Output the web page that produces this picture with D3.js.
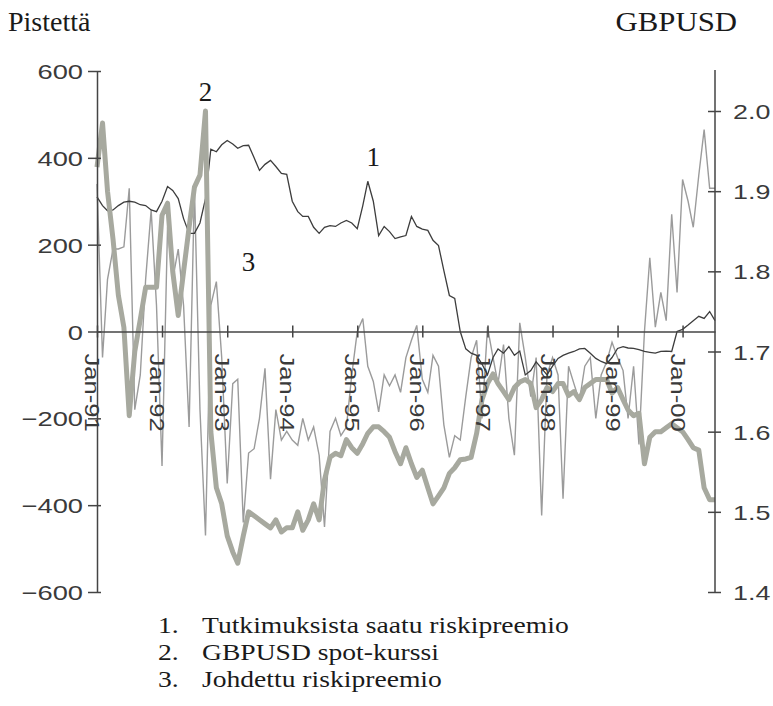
<!DOCTYPE html>
<html>
  <head>
    <meta charset="utf-8" />
    <title>Riskipreemio ja GBPUSD</title>
    <style>
      body {
        margin: 0;
        background: #fff;
      }

      svg {
        display: block;
      }

      .tick-label {
        font-family: "Liberation Sans", Arial, sans-serif;
        font-size: 21px;
        fill: #3a3a3a;
      }

      .serif {
        font-family: "Liberation Serif", "Times New Roman", serif;
        fill: #1a1a1a;
      }
    </style>
  </head>

  <body>
    <svg id="chart"></svg>

    <script src="https://cdn.jsdelivr.net/npm/d3@7"></script>
    <script>
      const width = 773;
      const height = 706;

      // monthly observations, Jan-91 .. Jul-00
      const startMonth = new Date(1991, 0, 1);

      // 1. Tutkimuksista saatu riskipreemio (pisteet, vasen akseli)
      const series1 = [
        310, 290, 278, 280, 290, 298, 300, 298, 292, 290,
        280, 276, 300, 334, 325, 306, 260, 226, 226, 250,
        306, 420, 414, 430, 440, 432, 422, 428, 429, 400,
        371, 385, 394, 380, 364, 362, 300, 276, 265, 265,
        240, 226, 240, 244, 242, 250, 256, 250, 237, 290,
        346, 300, 221, 242, 230, 214, 218, 221, 265, 242,
        236, 233, 210, 198, 140, 83, 76, 0, -40, -50,
        -55, -75, -100, -60, -40, -50, -35, -55, -45, -100,
        -90, -70, -85, -100, -80, -62, -55, -50, -46, -40,
        -39, -50, -62, -69, -74, -60, -39, -35, -38, -39,
        -42, -46, -48, -50, -46, -45, -46, 0, 5, 15,
        25, 35, 30, 46, 25
      ];

      // 2. GBPUSD spot-kurssi (oikea akseli)
      const series2 = [
        1.93, 1.985, 1.9, 1.84, 1.77, 1.73, 1.62, 1.7, 1.74, 1.78,
        1.78, 1.78, 1.87, 1.885, 1.8, 1.745, 1.8, 1.855, 1.905, 1.92,
        2.0, 1.6, 1.53, 1.51, 1.47, 1.45, 1.436, 1.47, 1.5, 1.495,
        1.49, 1.485, 1.48, 1.49, 1.475, 1.48, 1.48, 1.5, 1.477, 1.49,
        1.51, 1.49, 1.54, 1.568, 1.573, 1.57, 1.59, 1.58, 1.573, 1.585,
        1.598, 1.606, 1.606, 1.6, 1.593, 1.575, 1.56, 1.58, 1.56, 1.543,
        1.552, 1.53, 1.51, 1.52, 1.53, 1.548, 1.555, 1.565, 1.566, 1.568,
        1.598, 1.64, 1.66, 1.672, 1.66, 1.65, 1.64, 1.655, 1.662, 1.665,
        1.66, 1.63, 1.64, 1.655, 1.65, 1.66, 1.66, 1.645, 1.65, 1.64,
        1.655, 1.66, 1.665, 1.665, 1.665, 1.648, 1.655, 1.64, 1.627, 1.62,
        1.623, 1.56, 1.593, 1.6, 1.6, 1.605, 1.61, 1.605, 1.6, 1.59,
        1.58, 1.577, 1.53, 1.515, 1.515
      ];

      // 3. Johdettu riskipreemio (pisteet, vasen akseli)
      const series3 = [
        340, -60, 120, 190, 190, 195, 330, -180, -100, 120,
        280, 60, -310, 240, 120, 190, 60, -220, 330, -180,
        -470, 60, 115, -60, -350, -120, -110, -440, -280, -270,
        -200, -85, -340, -180, -250, -230, -250, -262, -200, -250,
        -220, -285, -450, -230, -200, -240, -220, -100, 0, 30,
        -80, -115, -185, -100, -125, -100, -140, -60, -20, 14,
        -110, -140, -55, -80, -215, -290, -240, -250, -150, -60,
        -20, -200, 10, -60, -120, -30, -200, -285, 20, -60,
        -150, -60, -424, -100, -60, -100, -385, -80, -120, -160,
        -80, -60, -200, -100, -70, -25, -60, -90, -200, -80,
        -260, 0, 170, 10, 90, 25, 270, 90, 350, 300,
        240, 360, 465, 330, 330
      ];

      const leftTicks = [-600, -400, -200, 0, 200, 400, 600];
      const rightTicks = [1.4, 1.5, 1.6, 1.7, 1.8, 1.9, 2.0];
      const yearTicks = d3.range(1991, 2001).map((y) => new Date(y, 0, 1));
      const legendItems = [
        "Tutkimuksista saatu riskipreemio",
        "GBPUSD spot-kurssi",
        "Johdettu riskipreemio"
      ];
      // series number, month index, value on left axis
      const callouts = [
        ["2", 20, 530],
        ["1", 51, 382],
        ["3", 28, 140]
      ];

      const months = series1.map((d, i) => d3.timeMonth.offset(startMonth, i));

      const svg = d3
        .select("#chart")
        .attr("width", width)
        .attr("height", height);

      const x = d3
        .scaleTime()
        .domain([months[0], months[months.length - 1]])
        .range([97, 715]);
      const yLeft = d3.scaleLinear().domain([-600, 600]).range([592, 71]);
      const yRight = d3.scaleLinear().domain([1.4, 2.0]).range([592, 111]);

      const lineLeft = d3
        .line()
        .x((d, i) => x(months[i]))
        .y((d) => yLeft(d));
      const lineRight = d3
        .line()
        .x((d, i) => x(months[i]))
        .y((d) => yRight(d));

      // lines: thin grey, thin dark, thick grey on top
      svg
        .append("path")
        .datum(series3)
        .attr("fill", "none")
        .attr("stroke", "#9b9b9b")
        .attr("stroke-width", 1.4)
        .attr("d", lineLeft);

      svg
        .append("path")
        .datum(series1)
        .attr("fill", "none")
        .attr("stroke", "#3d3d3d")
        .attr("stroke-width", 1.3)
        .attr("d", lineLeft);

      svg
        .append("path")
        .datum(series2)
        .attr("fill", "none")
        .attr("stroke", "#a7a99f")
        .attr("stroke-width", 5)
        .attr("stroke-linejoin", "round")
        .attr("d", lineRight);

      // left axis
      const leftAxis = svg
        .append("g")
        .attr("transform", "translate(97,0)")
        .call(
          d3
            .axisLeft(yLeft)
            .tickValues(leftTicks)
            .tickSizeInner(9)
            .tickSizeOuter(0)
            .tickFormat((d) => (d < 0 ? "\u2212" + Math.abs(d) : d))
        );
      leftAxis.select(".domain").attr("stroke", "#444").attr("stroke-width", 1.5);
      leftAxis
        .selectAll(".tick line")
        .attr("x1", 4)
        .attr("stroke", "#444")
        .attr("stroke-width", 1.5);
      leftAxis
        .selectAll(".tick text")
        .attr("class", "tick-label")
        .attr("x", null)
        .attr("dy", "0.36em")
        .attr("transform", "translate(-14,0) scale(1.3,1)");

      // right axis
      const rightAxis = svg
        .append("g")
        .attr("transform", "translate(715,0)")
        .call(
          d3
            .axisRight(yRight)
            .tickValues(rightTicks)
            .tickSizeInner(6)
            .tickSizeOuter(0)
            .tickFormat(d3.format(".1f"))
        );
      rightAxis.select(".domain").remove();
      rightAxis
        .append("line")
        .attr("y1", 70)
        .attr("y2", yRight(1.4))
        .attr("stroke", "#444")
        .attr("stroke-width", 1.5);
      rightAxis
        .selectAll(".tick line")
        .attr("x1", -7)
        .attr("stroke", "#444")
        .attr("stroke-width", 1.5);
      rightAxis
        .selectAll(".tick text")
        .attr("class", "tick-label")
        .attr("x", null)
        .attr("dy", "0.36em")
        .attr("transform", "translate(18,0) scale(1.28,1)");

      // time axis along zero line
      const timeAxis = svg
        .append("g")
        .attr("transform", "translate(0," + yLeft(0) + ")")
        .call(
          d3
            .axisBottom(x)
            .tickValues(yearTicks)
            .tickSizeInner(6)
            .tickSizeOuter(0)
            .tickFormat(d3.timeFormat("%b-%y"))
        );
      timeAxis.select(".domain").attr("stroke", "#444").attr("stroke-width", 1.5);
      timeAxis
        .selectAll(".tick line")
        .attr("y1", -6)
        .attr("stroke", "#444")
        .attr("stroke-width", 1.5);
      timeAxis
        .selectAll(".tick text")
        .attr("class", "tick-label")
        .attr("y", null)
        .attr("dy", "0.35em")
        .style("text-anchor", "start")
        .attr("transform", "translate(-5,22) rotate(90) scale(1.22,1)");

      // axis titles
      svg
        .append("text")
        .attr("class", "serif")
        .attr("x", 8)
        .attr("y", 31)
        .style("font-size", "28px")
        .text("Pistettä");

      svg
        .append("text")
        .attr("class", "serif")
        .attr("transform", "translate(737,31) scale(1.1,1)")
        .attr("text-anchor", "end")
        .style("font-size", "28px")
        .text("GBPUSD");

      // series numbers inside the plot
      svg
        .selectAll(".callout")
        .data(callouts)
        .join("text")
        .attr("class", "serif callout")
        .attr("x", (d) => x(months[d[1]]))
        .attr("y", (d) => yLeft(d[2]))
        .attr("text-anchor", "middle")
        .style("font-size", "27px")
        .text((d) => d[0]);

      // numbered legend below
      const legend = svg
        .append("g")
        .selectAll("g")
        .data(legendItems)
        .join("g")
        .attr("transform", (d, i) => "translate(0," + (633 + i * 27) + ")");

      legend
        .append("text")
        .attr("class", "serif")
        .attr("transform", "translate(158,0) scale(1.2,1)")
        .style("font-size", "23px")
        .text((d, i) => i + 1 + ".");

      legend
        .append("text")
        .attr("class", "serif")
        .attr("transform", "translate(202,0) scale(1.2,1)")
        .style("font-size", "23px")
        .text((d) => d);
    </script>
  </body>
</html>
